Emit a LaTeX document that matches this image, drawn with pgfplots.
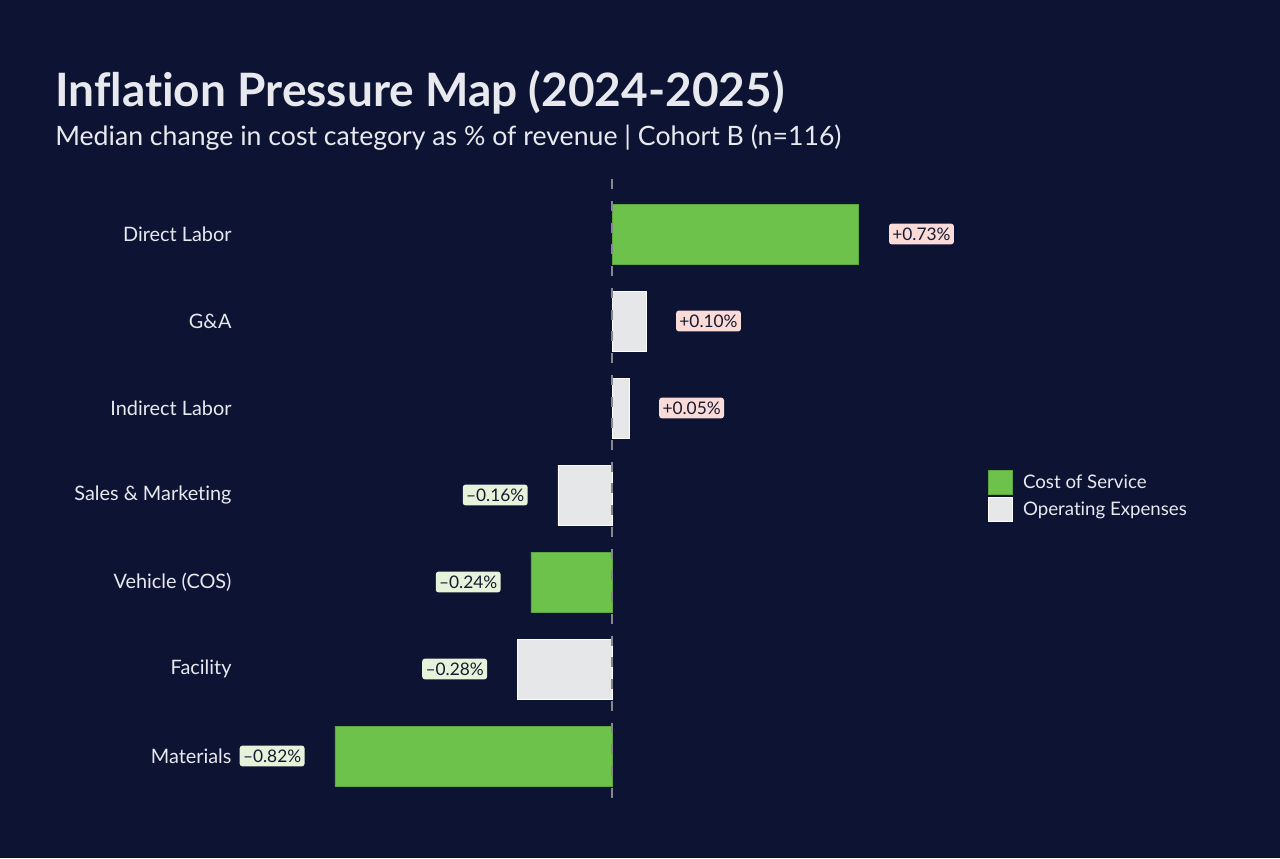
\documentclass[border=0pt]{standalone}
\usepackage{pgfplots}
\pgfplotsset{compat=1.18}
\usepackage{fontspec}
\setmainfont{Lato}[Ligatures={TeX,NoCommon}]
\definecolor{bg}{HTML}{0D1333}
\definecolor{cos}{HTML}{6CC24A}
\definecolor{opex}{HTML}{E6E7E9}
\definecolor{txt}{HTML}{E8E9EE}
\definecolor{posbox}{HTML}{FADBD8}
\definecolor{negbox}{HTML}{E6F2D9}
\definecolor{boxtxt}{HTML}{151A33}
\definecolor{zero}{HTML}{86868C}

\tikzset{
  valbox/.style={font=\fontsize{13}{15}\selectfont, text=boxtxt, rounded corners=2pt,
    inner xsep=2.5pt, inner ysep=3pt},
}
\pgfplotsset{
  posval/.style={nodes near coords, point meta=explicit symbolic,
    every node near coord/.append style={valbox, fill=posbox, anchor=west, xshift=22.5pt}},
  negval/.style={nodes near coords, point meta=explicit symbolic,
    every node near coord/.append style={valbox, fill=negbox, anchor=east, xshift=-22.5pt}},
  sqlegend/.style={legend image code/.code={\fill[##1] (0pt,-9pt) rectangle (18pt,9pt);}},
}

\begin{document}
\begin{tikzpicture}
\fill[bg] (0,0) rectangle (960pt,643.5pt);
\useasboundingbox (0,0) rectangle (960pt,643.5pt);

\node[anchor=base west, text=txt, inner sep=0pt,
  font=\bfseries\fontsize{34.5}{40}\selectfont] at (41.25pt,563.25pt)
  {Inflation Pressure Map (2024-2025)};
\node[anchor=base west, text=txt, inner sep=0pt,
  font=\fontsize{20}{24}\selectfont] at (41.25pt,534pt)
  {Median change in cost category as \% of revenue | Cohort B (n=116)};

\begin{axis}[
  anchor=origin, at={(459pt,76.5pt)},
  x=253.5pt, y=65.25pt,
  xmin=-1.1, xmax=1.0, ymin=-0.6, ymax=6.6,
  clip=false,
  xbar, bar width=45pt,
  axis line style={draw=none},
  major tick length=0pt,
  xtick=\empty,
  ytick={0,...,6},
  yticklabels={Materials,Facility,Vehicle (COS),Sales \& Marketing,Indirect Labor,G\&A,Direct Labor},
  yticklabel style={text=txt, font=\fontsize{14.9}{17}\selectfont, xshift=-3pt},
  legend style={at={(1.053,0.540)}, anchor=north west, draw=none, fill=none,
    text=txt, font=\fontsize{14}{16}\selectfont, row sep=2pt, column sep=6pt, inner sep=0pt},
  legend cell align=left,
]
% Cost of Service, increases
\addplot[bar shift=0pt, fill=cos, draw=cos!85!black, sqlegend, posval]
  coordinates {(0.73,6) [+0.73\%]};
\addlegendentry{Cost of Service}
% Operating Expenses, increases
\addplot[bar shift=0pt, fill=opex, draw=white, sqlegend, posval]
  coordinates {(0.10,5) [+0.10\%] (0.05,4) [+0.05\%]};
\addlegendentry{Operating Expenses}
% Cost of Service, decreases
\addplot[forget plot, bar shift=0pt, fill=cos, draw=cos!85!black, negval]
  coordinates {(-0.24,2) [–0.24\%] (-0.82,0) [–0.82\%]};
% Operating Expenses, decreases
\addplot[forget plot, bar shift=0pt, fill=opex, draw=white, negval]
  coordinates {(-0.16,3) [–0.16\%] (-0.28,1) [–0.28\%]};
% zero reference line
\draw[zero, line width=1.8pt, dash pattern=on 7.5pt off 8.8pt]
  (axis cs:0,6.63) -- (axis cs:0,-0.6);
\end{axis}
\end{tikzpicture}
\end{document}
